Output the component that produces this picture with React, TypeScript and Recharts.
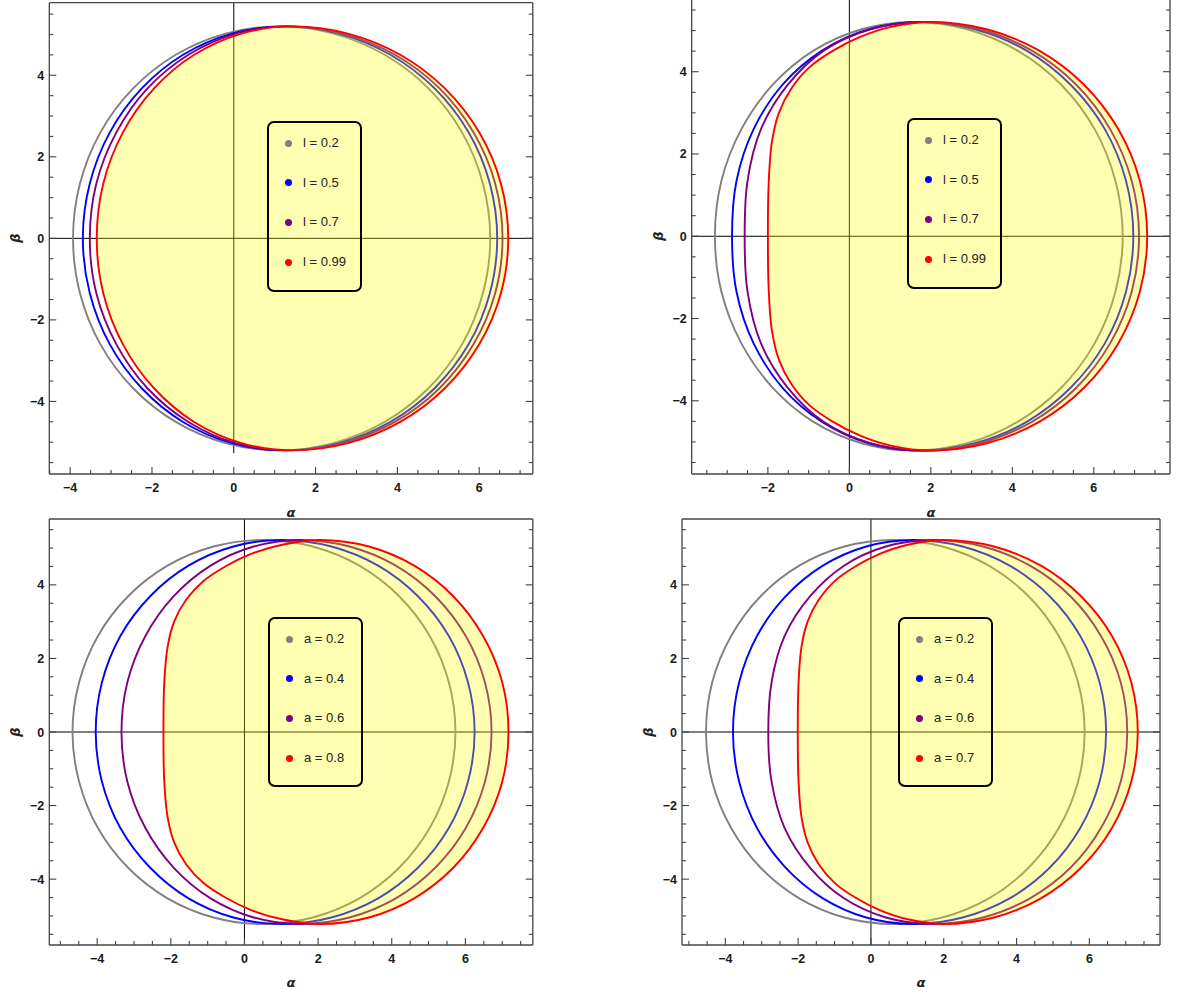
import React from 'react';
import { ScatterChart, Scatter, XAxis, YAxis, ReferenceLine } from 'recharts';

type Pt = [number, number];

// ---------- data: upper halves of the shadow curves, [alpha, beta], left (beta=0) -> top -> right (beta=0) ----------
const P1_LABELS = ['l = 0.2', 'l = 0.5', 'l = 0.7', 'l = 0.99'];
const P1_GRAY: Pt[] = [[-3.93,0],[-3.76,1.346],[-3.26,2.6],[-2.46,3.677],[-1.42,4.503],[-0.2,5.023],[1.1,5.2],[2.44,5.023],[3.69,4.503],[4.76,3.677],[5.58,2.6],[6.09,1.346],[6.27,0]];
const P1_BLUE: Pt[] = [[-3.69,0],[-3.52,1.346],[-3.03,2.6],[-2.25,3.677],[-1.24,4.503],[-0.05,5.023],[1.22,5.2],[2.57,5.023],[3.83,4.503],[4.91,3.677],[5.74,2.6],[6.26,1.346],[6.44,0]];
const P1_PURPLE: Pt[] = [[-3.52,0],[-3.36,1.346],[-2.87,2.6],[-2.11,3.677],[-1.11,4.503],[0.05,5.023],[1.3,5.2],[2.66,5.023],[3.94,4.503],[5.03,3.677],[5.86,2.6],[6.39,1.346],[6.57,0]];
const P1_RED: Pt[] = [[-3.35,0],[-3.19,1.346],[-2.71,2.6],[-1.95,3.677],[-0.97,4.503],[0.19,5.023],[1.42,5.2],[2.79,5.023],[4.07,4.503],[5.16,3.677],[6.0,2.6],[6.53,1.346],[6.71,0]];

const P2_LABELS = ['l = 0.2', 'l = 0.5', 'l = 0.7', 'l = 0.99'];
const P2_GRAY: Pt[] = [[-3.3,0],[-3.14,1.348],[-2.65,2.605],[-1.88,3.684],[-0.88,4.512],[0.3,5.032],[1.55,5.21],[2.89,5.032],[4.13,4.512],[5.2,3.684],[6.02,2.605],[6.53,1.348],[6.71,0]];
const P2_BLUE: Pt[] = [[-2.88,0],[-2.77,1.348],[-2.35,2.605],[-1.64,3.684],[-0.67,4.512],[0.48,5.032],[1.72,5.21],[3.08,5.032],[4.35,4.512],[5.43,3.684],[6.27,2.605],[6.79,1.348],[6.97,0]];
const P2_PURPLE: Pt[] = [[-2.57,0],[-2.5,1.348],[-2.17,2.605],[-1.51,3.684],[-0.63,4.512],[0.52,5.032],[1.84,5.21],[3.2,5.032],[4.48,4.512],[5.57,3.684],[6.4,2.605],[6.93,1.348],[7.11,0]];
const P2_RED: Pt[] = [[-2.0,0],[-1.98,1.3],[-1.9,2.3],[-1.73,3.0],[-1.42,3.6],[-0.99,4.1],[-0.42,4.5],[0.25,4.84],[1.02,5.09],[2.0,5.21],[3.37,5.032],[4.66,4.512],[5.76,3.684],[6.6,2.605],[7.13,1.348],[7.31,0]];

const P3_LABELS = ['a = 0.2', 'a = 0.4', 'a = 0.6', 'a = 0.8'];
const P3_GRAY: Pt[] = [[-4.67,0],[-4.49,1.351],[-3.98,2.61],[-3.16,3.691],[-2.09,4.521],[-0.84,5.042],[0.5,5.22],[1.85,5.042],[3.12,4.521],[4.2,3.691],[5.03,2.61],[5.55,1.351],[5.73,0]];
const P3_BLUE: Pt[] = [[-4.04,0],[-3.87,1.351],[-3.37,2.61],[-2.56,3.691],[-1.52,4.521],[-0.3,5.042],[1.0,5.22],[2.36,5.042],[3.63,4.521],[4.71,3.691],[5.55,2.61],[6.07,1.351],[6.25,0]];
const P3_PURPLE: Pt[] = [[-3.34,0],[-3.18,1.351],[-2.69,2.61],[-1.92,3.691],[-0.92,4.521],[0.25,5.042],[1.5,5.22],[2.85,5.042],[4.11,4.521],[5.18,3.691],[6.01,2.61],[6.53,1.351],[6.71,0]];
const P3_RED: Pt[] = [[-2.2,0],[-2.18,1.3],[-2.09,2.3],[-1.91,3.0],[-1.58,3.6],[-1.12,4.1],[-0.52,4.5],[0.18,4.84],[1.02,5.09],[2.05,5.22],[3.38,5.042],[4.61,4.521],[5.67,3.691],[6.48,2.61],[7.0,1.351],[7.17,0]];

const P4_LABELS = ['a = 0.2', 'a = 0.4', 'a = 0.6', 'a = 0.7'];
const P4_GRAY: Pt[] = [[-4.53,0],[-4.36,1.351],[-3.84,2.61],[-3.03,3.691],[-1.97,4.521],[-0.73,5.042],[0.6,5.22],[1.96,5.042],[3.24,4.521],[4.33,3.691],[5.16,2.61],[5.69,1.351],[5.87,0]];
const P4_BLUE: Pt[] = [[-3.79,0],[-3.62,1.351],[-3.13,2.61],[-2.34,3.691],[-1.32,4.521],[-0.13,5.042],[1.15,5.22],[2.52,5.042],[3.81,4.521],[4.91,3.691],[5.75,2.61],[6.28,1.351],[6.46,0]];
const P4_PURPLE: Pt[] = [[-2.82,0],[-2.73,1.351],[-2.37,2.61],[-1.67,3.691],[-0.74,4.521],[0.41,5.042],[1.7,5.22],[3.08,5.042],[4.37,4.521],[5.48,3.691],[6.32,2.61],[6.86,1.351],[7.04,0]];
const P4_RED: Pt[] = [[-2.01,0],[-1.99,1.3],[-1.91,2.3],[-1.74,3.0],[-1.43,3.6],[-1.0,4.1],[-0.43,4.5],[0.24,4.84],[1.01,5.09],[2.0,5.22],[3.38,5.042],[4.67,4.521],[5.77,3.691],[6.62,2.61],[7.15,1.351],[7.33,0]];

const X_MAJOR_A = [-4, -2, 0, 2, 4, 6];
const X_MAJOR_B = [-2, 0, 2, 4, 6];
const Y_MAJOR = [-4, -2, 0, 2, 4];

const COLORS = ['#808080', '#0000ff', '#800080', '#ff0000'];
const FILL = '#ffff00';
const FRAME = '#444444';
const SANS = "'Liberation Sans', Arial, Helvetica, sans-serif";

// ---------- helpers ----------
type XY = { x: number; y: number };

function closeShape(upper: Pt[]): XY[] {
  const top = upper.map(([a, b]) => ({ x: a, y: b }));
  const bottom = upper.slice(1, -1).reverse().map(([a, b]) => ({ x: a, y: -b }));
  return [...top, ...bottom];
}

// smooth closed path (centripetal Catmull-Rom) through the pixel points the chart computed
function closedPath(pts: XY[]): string {
  const n = pts ? pts.length : 0;
  if (n < 3) return '';
  let d = `M${pts[0].x},${pts[0].y}`;
  for (let i = 0; i < n; i++) {
    const p0 = pts[(i - 1 + n) % n];
    const p1 = pts[i];
    const p2 = pts[(i + 1) % n];
    const p3 = pts[(i + 2) % n];
    const d01 = Math.hypot(p1.x - p0.x, p1.y - p0.y);
    const d12 = Math.hypot(p2.x - p1.x, p2.y - p1.y);
    const d23 = Math.hypot(p3.x - p2.x, p3.y - p2.y);
    const l01 = Math.sqrt(d01), l12 = Math.sqrt(d12), l23 = Math.sqrt(d23);
    let c1x = p1.x, c1y = p1.y, c2x = p2.x, c2y = p2.y;
    if (l01 > 1e-6) {
      const a = 2 * d01 + 3 * l01 * l12 + d12;
      const m = 3 * l01 * (l01 + l12);
      c1x = (p1.x * a - p0.x * d12 + p2.x * d01) / m;
      c1y = (p1.y * a - p0.y * d12 + p2.y * d01) / m;
    }
    if (l23 > 1e-6) {
      const b = 2 * d23 + 3 * l23 * l12 + d12;
      const m = 3 * l23 * (l23 + l12);
      c2x = (p2.x * b + p1.x * d23 - p3.x * d12) / m;
      c2y = (p2.y * b + p1.y * d23 - p3.y * d12) / m;
    }
    d += `C${c1x.toFixed(2)},${c1y.toFixed(2)},${c2x.toFixed(2)},${c2y.toFixed(2)},${p2.x.toFixed(2)},${p2.y.toFixed(2)}`;
  }
  return d + 'Z';
}

function minorTicks(lo: number, hi: number): number[] {
  const out: number[] = [];
  for (let k = Math.ceil(lo * 2); k <= Math.floor(hi * 2); k++) out.push(k / 2);
  return out;
}

const fmt = (v: number) => (v < 0 ? '\u2212' + Math.abs(v) : String(v));

function makeTick(side: 'b' | 't' | 'l' | 'r', major: number[]) {
  return (props: any) => {
    const { x, y, payload } = props;
    const v = Number(payload.value);
    const isMaj = major.some((m) => Math.abs(m - v) < 1e-6);
    const len = isMaj ? 7 : 4;
    let x2 = x, y2 = y;
    if (side === 'b') y2 = y - len;
    if (side === 't') y2 = y + len;
    if (side === 'l') x2 = x + len;
    if (side === 'r') x2 = x - len;
    return (
      <g>
        <line x1={x} y1={y} x2={x2} y2={y2} stroke={FRAME} strokeWidth={1.1} />
        {isMaj && side === 'b' && (
          <text x={x} y={y + 18} textAnchor="middle" fontSize={12.5} fontWeight={700} fontFamily={SANS} fill="#1a1a1a">
            {fmt(v)}
          </text>
        )}
        {isMaj && side === 'l' && (
          <text x={x - 5} y={y + 4.5} textAnchor="end" fontSize={12.5} fontWeight={700} fontFamily={SANS} fill="#1a1a1a">
            {fmt(v)}
          </text>
        )}
      </g>
    );
  };
}

const NoDot = () => <g />;
const strokeLine = (c: string) => (p: any) => (
  <path d={closedPath(p.points)} fill="none" stroke={c} strokeWidth={1.9} strokeLinejoin="round" />
);
const fillLine = (p: any) => <path d={closedPath(p.points)} fill={FILL} fillOpacity={0.3} stroke="none" />;

type Box = { x: number; y: number; w: number; h: number };
type PanelCfg = {
  box: Box;
  frame: { x0: number; x1: number; y0: number; y1: number };
  xDomain: [number, number];
  yDomain: [number, number];
  vLineBottom: number;
  xMajor: number[];
  curves: Pt[][];
  labels: string[];
  legend: Box;
  alphaPos: [number, number];
  betaPos: [number, number];
};

const PANELS: PanelCfg[] = [
  {
    box: { x: 0, y: 0, w: 600, h: 525 },
    frame: { x0: 49.3, x1: 532.8, y0: 2.7, y1: 474 },
    xDomain: [-4.51, 7.31],
    yDomain: [-5.78, 5.78],
    vLineBottom: -5.27,
    xMajor: X_MAJOR_A,
    curves: [P1_GRAY, P1_BLUE, P1_PURPLE, P1_RED],
    labels: P1_LABELS,
    legend: { x: 267, y: 121, w: 95, h: 171 },
    alphaPos: [291, 513],
    betaPos: [16, 238],
  },
  {
    box: { x: 600, y: -10, w: 586, h: 535 },
    frame: { x0: 691.7, x1: 1170, y0: -1.5, y1: 474 },
    xDomain: [-3.87, 7.87],
    yDomain: [-5.78, 5.78],
    vLineBottom: -5.78,
    xMajor: X_MAJOR_B,
    curves: [P2_GRAY, P2_BLUE, P2_PURPLE, P2_RED],
    labels: P2_LABELS,
    legend: { x: 907, y: 118, w: 95, h: 171 },
    alphaPos: [931, 513],
    betaPos: [659, 236],
  },
  {
    box: { x: 0, y: 500, w: 600, h: 494 },
    frame: { x0: 49.3, x1: 532.8, y0: 519, y1: 945 },
    xDomain: [-5.3, 7.83],
    yDomain: [-5.79, 5.79],
    vLineBottom: -5.79,
    xMajor: X_MAJOR_A,
    curves: [P3_GRAY, P3_BLUE, P3_PURPLE, P3_RED],
    labels: P3_LABELS,
    legend: { x: 268, y: 617, w: 95, h: 170 },
    alphaPos: [291, 983],
    betaPos: [16, 732],
  },
  {
    box: { x: 600, y: 500, w: 586, h: 494 },
    frame: { x0: 682, x1: 1160, y0: 519, y1: 945 },
    xDomain: [-5.19, 7.94],
    yDomain: [-5.79, 5.79],
    vLineBottom: -5.79,
    xMajor: X_MAJOR_A,
    curves: [P4_GRAY, P4_BLUE, P4_PURPLE, P4_RED],
    labels: P4_LABELS,
    legend: { x: 898, y: 617, w: 95, h: 170 },
    alphaPos: [921, 983],
    betaPos: [649, 732],
  },
];

const AX = 1; // thickness reserved by each frame axis

function Panel({ cfg }: { cfg: PanelCfg }) {
  const { box, frame, xDomain, yDomain, xMajor, curves, vLineBottom } = cfg;
  const margin = {
    left: frame.x0 - box.x - AX,
    top: frame.y0 - box.y - AX,
    right: box.x + box.w - frame.x1 - AX,
    bottom: box.y + box.h - frame.y1 - AX,
  };
  const xt = minorTicks(xDomain[0], xDomain[1]);
  const yt = minorTicks(yDomain[0], yDomain[1]);
  const shapes = curves.map(closeShape);
  const axisLine = { stroke: FRAME, strokeWidth: 1.3 };
  return (
    <div style={{ position: 'absolute', left: box.x, top: box.y, width: box.w, height: box.h }}>
      <ScatterChart width={box.w} height={box.h} margin={margin}>
        <XAxis type="number" dataKey="x" domain={xDomain} allowDataOverflow ticks={xt} interval={0}
          tickSize={0} tickMargin={0} tickLine={false} tick={makeTick('b', xMajor)} axisLine={axisLine} height={AX} />
        <XAxis xAxisId="t" orientation="top" type="number" domain={xDomain} allowDataOverflow ticks={xt} interval={0}
          tickSize={0} tickMargin={0} tickLine={false} tick={makeTick('t', xMajor)} axisLine={axisLine} height={AX} />
        <YAxis type="number" dataKey="y" domain={yDomain} allowDataOverflow ticks={yt} interval={0}
          tickSize={0} tickMargin={0} tickLine={false} tick={makeTick('l', Y_MAJOR)} axisLine={axisLine} width={AX} />
        <YAxis yAxisId="r" orientation="right" type="number" domain={yDomain} allowDataOverflow ticks={yt} interval={0}
          tickSize={0} tickMargin={0} tickLine={false} tick={makeTick('r', Y_MAJOR)} axisLine={axisLine} width={AX} />
        <ReferenceLine segment={[{ x: 0, y: vLineBottom }, { x: 0, y: yDomain[1] }]} stroke="#000" strokeWidth={1} />
        <ReferenceLine y={0} stroke="#000" strokeWidth={1} />
        <Scatter data={shapes[0]} isAnimationActive={false} shape={NoDot} line={strokeLine(COLORS[0])} />
        <Scatter data={shapes[1]} isAnimationActive={false} shape={NoDot} line={strokeLine(COLORS[1])} />
        <Scatter data={shapes[2]} isAnimationActive={false} shape={NoDot} line={strokeLine(COLORS[2])} />
        <Scatter data={shapes[3]} isAnimationActive={false} shape={NoDot} line={fillLine} />
        <Scatter data={shapes[3]} isAnimationActive={false} shape={NoDot} line={strokeLine(COLORS[3])} />
      </ScatterChart>
    </div>
  );
}

function LegendBox({ cfg }: { cfg: PanelCfg }) {
  const { legend, labels } = cfg;
  return (
    <div
      style={{
        position: 'absolute', left: legend.x, top: legend.y, width: legend.w, height: legend.h,
        border: '2px solid #000', borderRadius: 7, boxSizing: 'border-box',
      }}
    >
      {labels.map((lab, i) => (
        <div key={lab} style={{ position: 'absolute', left: 0, top: 12 + i * 39.7, height: 16, width: '100%' }}>
          <span style={{ position: 'absolute', left: 15.5, top: 4.5, width: 7, height: 7, borderRadius: '50%', background: COLORS[i] }} />
          <span style={{ position: 'absolute', left: 34, top: 0, fontFamily: SANS, fontSize: 13, lineHeight: '16px', color: '#222', whiteSpace: 'nowrap' }}>
            {lab}
          </span>
        </div>
      ))}
    </div>
  );
}

function Titles({ cfg }: { cfg: PanelCfg }) {
  const t: React.CSSProperties = {
    position: 'absolute', fontFamily: "'DejaVu Sans', sans-serif", fontSize: 13, fontWeight: 'bold',
    fontStyle: 'italic', color: '#222', lineHeight: '14px',
  };
  return (
    <>
      <span style={{ ...t, left: cfg.alphaPos[0], top: cfg.alphaPos[1], transform: 'translate(-50%,-50%)' }}>α</span>
      <span style={{ ...t, left: cfg.betaPos[0], top: cfg.betaPos[1], transform: 'translate(-50%,-50%) rotate(-90deg)' }}>β</span>
    </>
  );
}

export default function App() {
  return (
    <div style={{ position: 'absolute', left: 0, top: 0, width: 1186, height: 994, background: '#fff', overflow: 'hidden' }}>
      {PANELS.map((p, i) => (
        <Panel key={'p' + i} cfg={p} />
      ))}
      {PANELS.map((p, i) => (
        <LegendBox key={'l' + i} cfg={p} />
      ))}
      {PANELS.map((p, i) => (
        <Titles key={'t' + i} cfg={p} />
      ))}
    </div>
  );
}
